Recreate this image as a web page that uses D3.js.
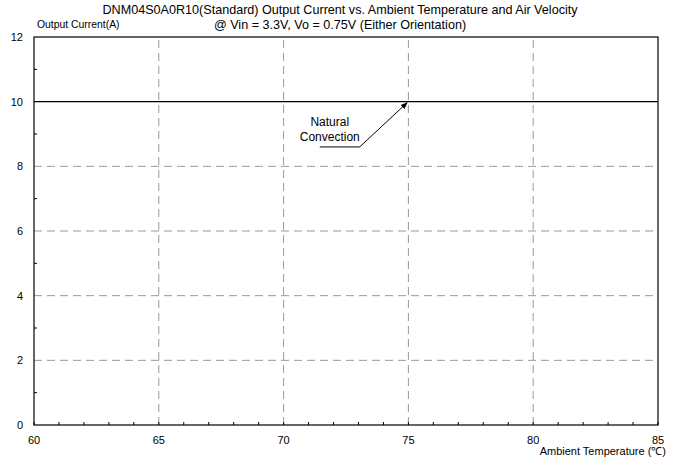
<!DOCTYPE html>
<html>
<head>
<meta charset="utf-8">
<script src="https://cdn.jsdelivr.net/npm/d3@7"></script>
<style>
body { margin: 0; background: #fff; }
text { font-family: "Liberation Sans", Arial, sans-serif; fill: #000; }
</style>
</head>
<body>
<script>
// data
var temps = [60, 65, 70, 75, 80, 85];
var current = [10, 10, 10, 10, 10, 10];
var yTicks = [0, 2, 4, 6, 8, 10, 12];
var xMinor = d3.range(60, 86, 1);
var yMinor = [1, 3, 5, 7, 9, 11];
var titleLines = ["DNM04S0A0R10(Standard) Output Current vs. Ambient Temperature and Air Velocity",
                  "@ Vin = 3.3V, Vo = 0.75V (Either Orientation)"];
var noteLines = ["Natural", "Convection"];
// annotation leader: underline start, elbow, arrow tip (data units)
var notePath = [[71.45, 8.6], [73.05, 8.6], [74.95, 9.97]];

var W = 678, H = 459;
var margin = {left: 34, right: 20, top: 37, bottom: 34};

var x = d3.scaleLinear().domain([60, 85]).range([margin.left, W - margin.right]);
var y = d3.scaleLinear().domain([0, 12]).range([H - margin.bottom, margin.top]);

var svg = d3.select("body").append("svg")
    .attr("width", W)
    .attr("height", H);

svg.append("defs").append("marker")
    .attr("id", "arr")
    .attr("viewBox", "0 0 10 10")
    .attr("refX", 9).attr("refY", 5)
    .attr("markerWidth", 7).attr("markerHeight", 7)
    .attr("orient", "auto")
  .append("path")
    .attr("d", "M0,1 L10,5 L0,9 Z")
    .attr("fill", "#000");

// grid
svg.selectAll(".vgrid")
    .data(temps.slice(1, -1))
  .enter().append("line")
    .attr("x1", function(d) { return x(d); })
    .attr("x2", function(d) { return x(d); })
    .attr("y1", y(0)).attr("y2", y(12))
    .attr("stroke", "#999")
    .attr("stroke-dasharray", "8,5");

svg.selectAll(".hgrid")
    .data([2, 4, 6, 8])
  .enter().append("line")
    .attr("y1", function(d) { return y(d); })
    .attr("y2", function(d) { return y(d); })
    .attr("x1", x(60)).attr("x2", x(85))
    .attr("stroke", "#999")
    .attr("stroke-dasharray", "8,5");

// frame
svg.append("rect")
    .attr("x", x(60)).attr("y", y(12))
    .attr("width", x(85) - x(60))
    .attr("height", y(0) - y(12))
    .attr("fill", "none")
    .attr("stroke", "#000")
    .attr("stroke-width", 1.2);

// minor ticks
svg.selectAll(".xm")
    .data(xMinor)
  .enter().append("line")
    .attr("x1", function(d) { return x(d); })
    .attr("x2", function(d) { return x(d); })
    .attr("y1", y(0)).attr("y2", y(0) - 3)
    .attr("stroke", "#000");

svg.selectAll(".ym")
    .data(yMinor)
  .enter().append("line")
    .attr("y1", function(d) { return y(d); })
    .attr("y2", function(d) { return y(d); })
    .attr("x1", x(60)).attr("x2", x(60) + 3)
    .attr("stroke", "#000");

// tick labels
svg.selectAll(".xl")
    .data(temps)
  .enter().append("text")
    .attr("x", function(d) { return x(d); })
    .attr("y", y(0) + 19)
    .attr("text-anchor", "middle")
    .attr("font-size", 11)
    .text(function(d) { return d; });

svg.selectAll(".yl")
    .data(yTicks)
  .enter().append("text")
    .attr("x", x(60) - 11)
    .attr("y", function(d) { return y(d) + 4; })
    .attr("text-anchor", "end")
    .attr("font-size", 11)
    .text(function(d) { return d; });

// data line
var line = d3.line()
    .x(function(d, i) { return x(temps[i]); })
    .y(function(d) { return y(d); });

svg.append("path")
    .datum(current)
    .attr("d", line)
    .attr("fill", "none")
    .attr("stroke", "#000")
    .attr("stroke-width", 1.3);

// annotation
svg.append("path")
    .datum(notePath)
    .attr("d", d3.line().x(function(d) { return x(d[0]); }).y(function(d) { return y(d[1]); }))
    .attr("fill", "none")
    .attr("stroke", "#000")
    .attr("stroke-width", 1)
    .attr("marker-end", "url(#arr)");

svg.selectAll(".note")
    .data(noteLines)
  .enter().append("text")
    .attr("x", x(71.85))
    .attr("y", function(d, i) { return y(9.25) + i * 15; })
    .attr("text-anchor", "middle")
    .attr("font-size", 12)
    .text(function(d) { return d; });

// titles
svg.selectAll(".title")
    .data(titleLines)
  .enter().append("text")
    .attr("x", 340)
    .attr("y", function(d, i) { return 14 + i * 15; })
    .attr("text-anchor", "middle")
    .attr("font-size", 12.6)
    .text(function(d) { return d; });

svg.append("text")
    .attr("x", x(60) + 3)
    .attr("y", 28)
    .attr("font-size", 10.4)
    .text("Output Current(A)");

svg.append("text")
    .attr("x", 666)
    .attr("y", 455)
    .attr("text-anchor", "end")
    .attr("font-size", 11)
    .text("Ambient Temperature (℃)");
</script>
</body>
</html>
